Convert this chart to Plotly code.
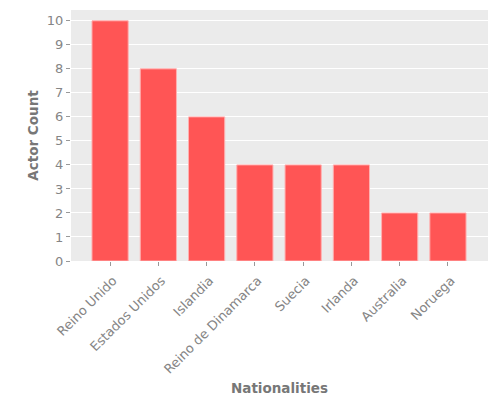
import plotly.graph_objects as go

nationalities = ['Reino Unido', 'Estados Unidos', 'Islandia', 'Reino de Dinamarca',
                 'Suecia', 'Irlanda', 'Australia', 'Noruega']
actor_counts = [10, 8, 6, 4, 4, 4, 2, 2]
y_ticks = list(range(0, 11))

fig = go.Figure()

fig.add_trace(go.Bar(
    x=nationalities,
    y=actor_counts,
    width=0.75,
    marker=dict(color='#FF5555', line=dict(color='#FFB0B0', width=1)),
))

# page has an 8px body margin, so the figure is drawn a bit smaller
fig.update_layout(
    width=492,
    height=392,
    margin=dict(l=63, r=12, t=2, b=139),
    paper_bgcolor='white',
    plot_bgcolor='#EBEBEB',
    font=dict(family='DejaVu Sans', color='#858585', size=13),
    showlegend=False,
    xaxis=dict(
        title=dict(text='<b>Nationalities</b>', font=dict(size=13.5, color='#777777'), standoff=7),
        range=[-0.81, 7.83],
        tickangle=-45,
        ticks='outside',
        ticklen=4,
        tickcolor='#999999',
        ticklabelshift=3,
        ticklabelstandoff=2,
        showgrid=False,
        zeroline=False,
        automargin=False,
    ),
    yaxis=dict(
        title=dict(text='<b>Actor Count</b>', font=dict(size=13.5, color='#777777'), standoff=5),
        range=[0, 10.45],
        tickvals=y_ticks,
        ticks='outside',
        ticklen=4,
        tickcolor='#999999',
        gridcolor='white',
        gridwidth=1,
        zeroline=False,
        automargin=False,
    ),
)

fig.write_html("out.html")
